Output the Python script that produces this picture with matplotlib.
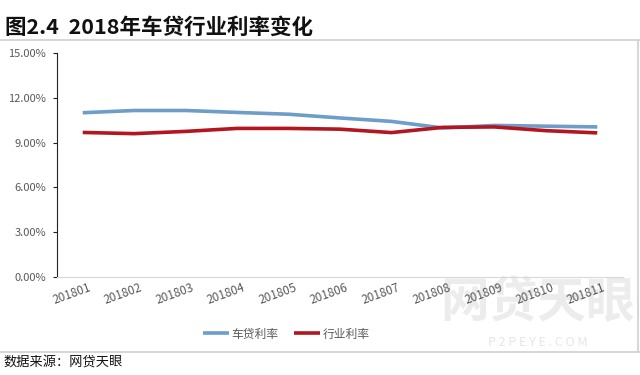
import matplotlib
matplotlib.use("Agg")
import matplotlib.pyplot as plt
from matplotlib.lines import Line2D
from matplotlib.ticker import FuncFormatter
from matplotlib.transforms import ScaledTranslation

plt.rcParams['font.family'] = ['Noto Sans CJK SC', 'DejaVu Sans']

months = ["201801", "201802", "201803", "201804", "201805", "201806",
          "201807", "201808", "201809", "201810", "201811"]
car_rate = [11.00, 11.15, 11.15, 11.02, 10.90, 10.65, 10.42, 9.98, 10.15, 10.10, 10.05]
ind_rate = [9.68, 9.60, 9.75, 9.95, 9.95, 9.90, 9.67, 10.02, 10.05, 9.80, 9.65]

blue = "#6d9dc8"
red = "#b3161f"

fig = plt.figure(figsize=(6.4, 3.75), dpi=100)

# frame lines of the screenshot
fig.add_artist(Line2D([0, 1], [1 - 40/375, 1 - 40/375], color="#d0d0d0", lw=1.2))
fig.add_artist(Line2D([0, 1], [1 - 352/375, 1 - 352/375], color="#d0d0d0", lw=1.2))
fig.add_artist(Line2D([638/640, 638/640], [1 - 352/375, 1 - 40/375], color="#d0d0d0", lw=1.2))

fig.text(5/640, 1 - 27/375, "图2.4  2018年车贷行业利率变化", fontsize=15.5,
         fontweight="bold", va="center", ha="left", color="#111111")

# watermark
fig.text(538/640, 1 - 303/375, "网贷天眼", fontsize=35, fontweight="bold",
         color="#ececec", ha="center", va="center", zorder=-5)
fig.text(538/640, 1 - 343/375, "P 2 P E Y E . C O M", fontsize=9,
         color="#e6e6e6", ha="center", va="center", zorder=-5)

ax = fig.add_axes([57/640, (375-277)/375, (623-57)/640, (277-53)/375])
ax.patch.set_alpha(0)
x = range(len(months))
ax.plot(x, car_rate, color=blue, lw=2.6, solid_capstyle="butt", label="车贷利率")
ax.plot(x, ind_rate, color=red, lw=2.6, solid_capstyle="butt", label="行业利率")

ax.set_xlim(-0.5, len(months) - 0.5)
ax.set_ylim(0, 15)
ax.set_yticks([0, 3, 6, 9, 12, 15])
ax.yaxis.set_major_formatter(FuncFormatter(lambda v, p: f"{v:.2f}%"))
ax.set_xticks(list(x))
ax.set_xticklabels(months, rotation=20, fontsize=8.5, color="#595959")
ax.tick_params(axis="y", labelsize=8, labelcolor="#595959", length=3,
               direction="out", color="#222222", pad=5)
ax.tick_params(axis="x", length=0, pad=5)
# nudge the rotated month labels left, like the original
shift = ScaledTranslation(-0.11, 0.03, fig.dpi_scale_trans)
for lab in ax.get_xticklabels():
    lab.set_transform(lab.get_transform() + shift)
for s in ["top", "right"]:
    ax.spines[s].set_visible(False)
ax.spines["left"].set_color("#222222")
ax.spines["bottom"].set_color("#d9d9d9")

ax.legend(loc="center", bbox_to_anchor=(0.405, -0.255), ncol=2, frameon=False,
          fontsize=8.5, handlelength=2.2, columnspacing=1.3, handletextpad=0.2,
          labelcolor="#595959")

fig.text(3/640, 1 - 363/375, "数据来源：网贷天眼", fontsize=9.5, va="center",
         ha="left", color="#111111")

fig.savefig("out.png", dpi=100)
